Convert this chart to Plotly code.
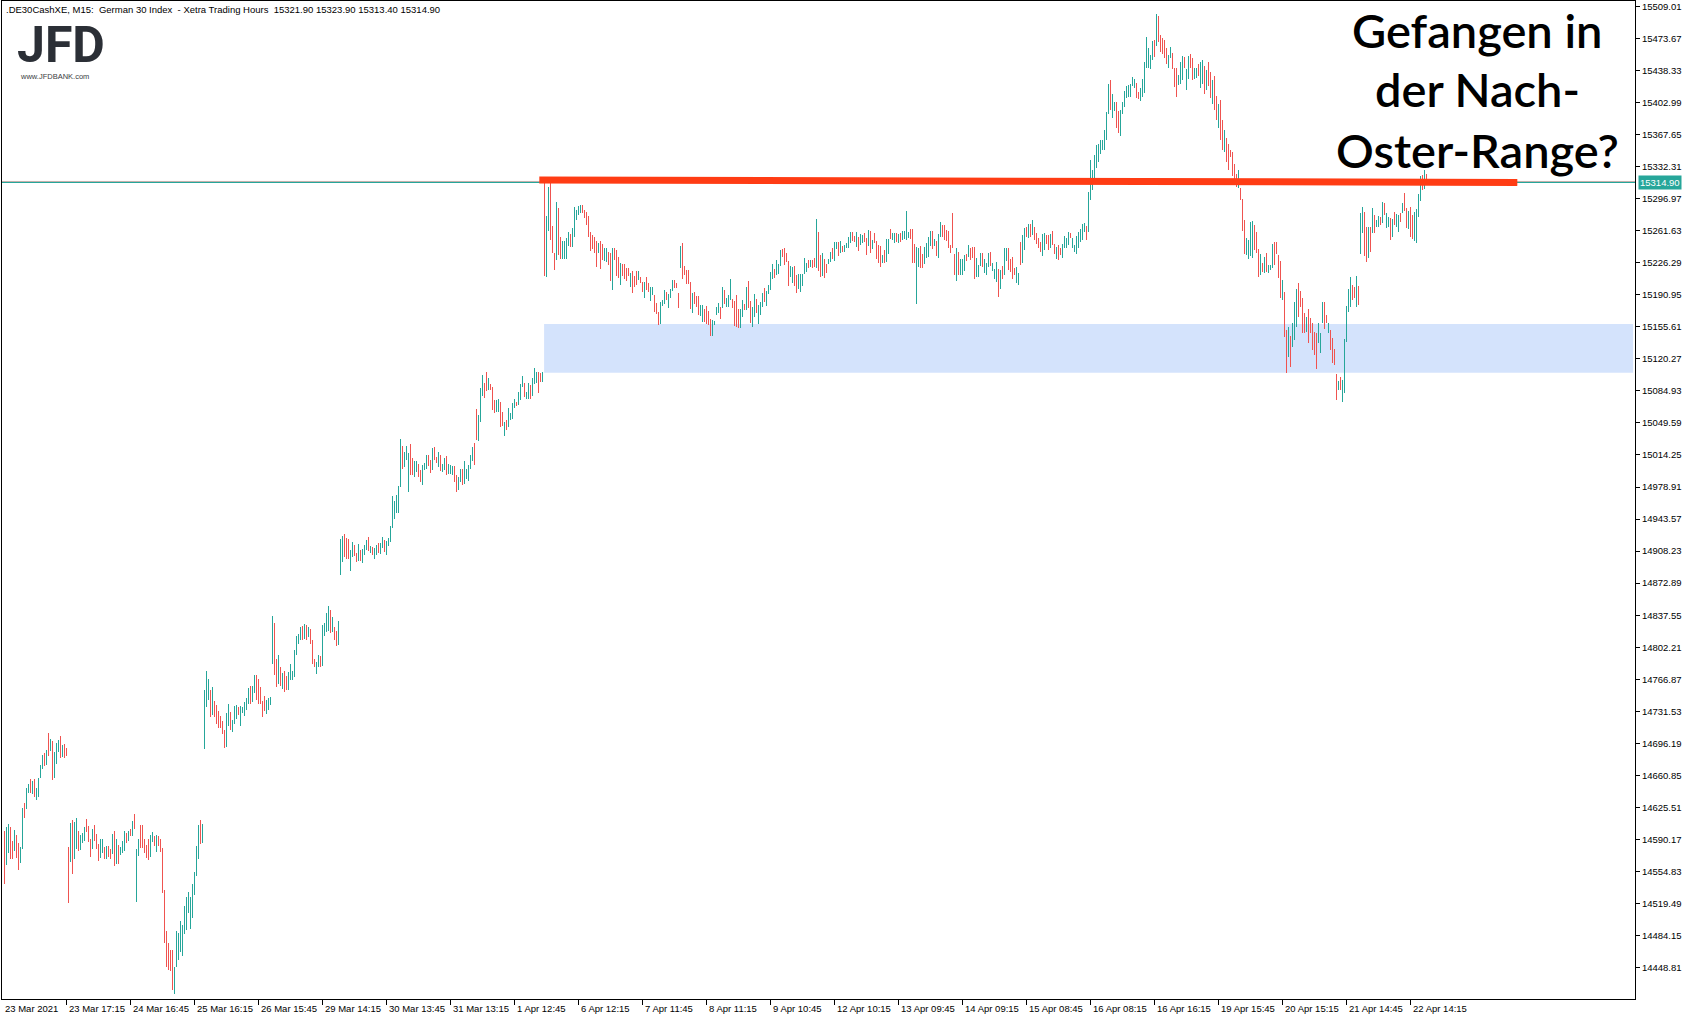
import plotly.graph_objects as go

# ---------------- data ----------------
HIGH = [
    # 23 Mar
    14599.5,14604.3,14607.2,14604.3,14588.8,14600.6,14595.1,14585.9,14582.2,14624.9,
    14630.8,14646.6,14651.4,14656.9,14654.7,14656.9,14647.0,14658.0,14672.3,14683.4,
    14685.2,14688.9,14707.6,14701.0,14698.8,14687.0,14696.6,14699.9,14704.3,14694.8,
    14695.5,14691.4,
    # 24 Mar
    14582.2,14608.4,14611.6,14609.4,14613.9,14599.5,14595.1,14597.7,14604.3,14612.8,
    14605.0,14590.3,14602.1,14606.1,14596.2,14585.2,14591.1,14590.3,14582.2,14583.0,
    14583.0,14580.0,14596.2,14599.5,14591.1,14583.7,14582.2,14588.9,14599.5,14597.7,
    14599.5,14601.4,14610.6,14618.3,
    # 25 Mar
    14580.0,14590.3,14606.1,14606.1,14591.1,14583.7,14590.3,14595.5,14598.1,14594.4,
    14595.5,14594.0,14590.7,14581.1,14534.4,14489.6,14476.3,14468.3,14468.3,14449.9,
    14489.6,14487.4,14500.6,14495.8,14516.8,14527.1,14532.2,14527.1,14541.1,14554.3,
    14583.0,14606.1,14611.6,14607.2,
    # 26 Mar
    14755.1,14776.0,14767.2,14755.1,14758.4,14742.9,14738.5,14731.9,14726.7,14720.9,
    14710.9,14729.3,14739.6,14730.8,14722.0,14737.4,14738.5,14736.7,14737.4,14736.3,
    14741.8,14746.6,14757.3,14759.5,14759.5,14771.6,14771.6,14767.6,14758.4,14743.3,
    14748.4,14744.0,14745.9,14747.0,
    # 29 Mar
    14836.7,14829.3,14789.6,14793.7,14780.4,14774.2,14776.4,14770.9,14774.9,14783.7,
    14776.4,14799.2,14815.0,14816.8,14824.9,14826.0,14827.8,14826.4,14824.9,14822.0,
    14810.2,14788.9,14786.3,14794.0,14792.6,14826.8,14828.6,14839.6,14847.7,14843.3,
    14835.2,14824.9,14820.5,14831.2,
    # 30 Mar - 1 Apr
    14921.6,14924.9,14927.1,14922.7,14921.2,14909.4,14918.2,14914.9,14905.7,14916.0,
    14909.4,14910.1,14914.9,14920.4,14923.8,14913.8,14913.1,14911.3,14914.9,14917.1,
    14917.5,14923.8,14920.4,14919.7,14922.7,14935.9,14969.0,14963.8,14970.1,14980.0,
    15031.9,15024.1,15017.5,15024.1,15016.8,15026.3,15010.9,15007.6,15007.6,15003.9,
    14997.7,15003.2,15005.0,15014.2,15014.2,15008.7,15022.3,15023.4,15012.4,15017.5,
    15014.6,15003.9,15010.9,15013.1,15004.3,15003.2,15002.1,15002.1,14991.8,14990.3,
    14998.8,14998.8,15007.6,14999.1,15003.2,15014.2,15023.4,15027.1,15065.3,15058.3,
    15088.5,15102.8,15094.0,15106.1,15099.1,15092.5,15089.6,15074.9,15074.9,15075.6,
    15073.0,15061.6,15051.0,15052.8,15066.1,15060.9,15071.9,15076.4,15073.0,15084.1,
    15092.5,15101.4,15094.0,15084.1,15094.0,15091.4,15099.1,15110.5,15105.8,15105.8,
    15104.3,15105.8,
    # 6 Apr - 15 Apr
    15315.0,15277.8,15309.4,15313.9,15266.8,15236.6,15293.3,15286.6,15254.3,15250.3,
    15250.3,15253.6,15260.2,15258.0,15265.0,15287.7,15284.4,15288.8,15290.0,15290.3,
    15284.4,15282.2,15277.8,15260.2,15256.5,15254.3,15250.6,15248.4,15250.6,15246.9,
    15242.5,15242.5,15238.1,15237.4,15242.5,15242.5,15240.3,15232.6,15226.0,15224.5,
    15225.2,15220.1,15220.5,15214.6,15216.8,15211.3,15217.2,15216.8,15210.5,15205.0,
    15205.0,15210.5,15203.9,15199.5,15199.9,15190.7,15182.2,15171.9,15183.0,15185.2,
    15196.2,15194.0,15191.8,15197.7,15207.2,15207.2,15203.6,15192.9,15244.7,15248.4,
    15222.7,15218.3,15218.3,15205.0,15193.2,15193.6,15189.9,15189.6,15179.7,15179.7,
    15175.2,15178.9,15173.0,15163.8,15163.1,15162.4,15177.8,15181.5,15177.8,15199.9,
    15196.2,15187.4,15190.3,15208.7,15186.3,15183.7,15190.7,15175.2,15175.2,15185.2,
    15180.7,15199.9,15206.1,15183.7,15177.8,15191.4,15186.3,15179.7,15183.3,15192.5,
    15198.4,15195.1,15202.1,15216.1,15224.9,15219.7,15229.3,15224.5,15240.3,15241.8,
    15242.5,15236.6,15228.2,15222.3,15221.9,15222.7,15212.4,15213.5,15213.9,15213.9,
    15231.5,15226.3,15229.3,15229.7,15229.3,15231.1,15274.1,15260.2,15234.8,15237.4,
    15230.8,15224.5,15230.8,15238.1,15242.5,15249.1,15249.5,15249.1,15249.9,15244.7,
    15245.5,15248.4,15255.0,15260.2,15260.2,15255.8,15259.8,15254.3,15258.0,15257.2,
    15259.4,15253.6,15262.4,15261.6,15251.4,15259.4,15250.6,15245.5,15244.7,15234.4,
    15240.3,15252.8,15252.8,15263.9,15259.4,15259.4,15258.7,15258.0,15258.7,15261.6,
    15261.6,15283.3,15260.5,15263.5,15263.5,15246.9,15243.3,15242.5,15245.1,15235.5,
    15243.3,15247.7,15255.0,15260.9,15261.3,15252.8,15249.9,15258.0,15271.2,15267.9,
    15267.5,15262.4,15260.9,15246.2,15281.5,15235.9,15242.2,15238.5,15230.8,15230.0,
    15234.4,15235.5,15245.8,15242.2,15244.0,15243.3,15231.5,15223.4,15236.6,15236.6,
    15230.8,15226.3,15236.6,15238.1,15225.6,15219.7,15227.1,15219.7,15218.3,15222.7,
    15242.2,15242.2,15242.5,15230.8,15232.2,15220.1,15221.2,15214.6,
    # 15 Apr - 19 Apr
    15248.8,15256.9,15264.2,15266.1,15269.4,15268.7,15273.8,15266.1,15259.1,15253.2,
    15248.8,15257.6,15258.7,15256.9,15256.9,15258.4,15261.3,15246.6,15243.7,15245.9,
    15242.9,15247.3,15256.2,15253.9,15260.6,15259.1,15253.2,15245.9,15256.2,15260.6,
    15263.1,15269.4,15270.1,15266.4,15304.7,15339.3,15329.0,15345.1,15356.2,15357.6,
    15361.3,15361.7,15372.3,15392.9,15423.8,15428.2,15412.1,15404.0,15403.2,15393.7,
    15394.4,15404.0,15415.7,15420.9,15422.4,15423.8,15431.2,15429.0,15424.6,15415.0,
    15418.7,15429.0,15448.1,15475.3,15462.8,15455.4,15470.9,15472.4,15500.3,15498.5,
    15477.5,15473.8,15472.4,15463.5,15455.4,15464.3,15457.3,15441.5,15441.5,15433.4,
    15448.1,15454.0,15453.2,15440.0,15454.0,15456.5,15451.8,15441.5,15440.7,15445.2,
    15447.7,15449.9,15443.3,15438.9,15447.7,15436.7,15427.9,15432.3,15410.2,15401.4,
    15405.8,15383.7,15372.7,15363.9,15357.3,
    # 19 Apr - 22 Apr
    15350.6,15348.8,15335.2,15324.1,15328.5,15308.3,15296.2,15273.4,15253.2,15251.3,
    15271.2,15272.6,15267.5,15260.1,15241.8,15235.9,15226.3,15232.2,15237.3,15223.4,
    15223.7,15246.9,15249.1,15249.1,15234.8,15228.5,15207.2,15194.0,15152.0,15155.0,
    15145.4,15159.4,15182.9,15196.9,15203.5,15195.1,15187.3,15171.2,15166.7,15175.6,
    15165.3,15159.4,15149.8,15149.1,15159.4,15148.4,15182.9,15182.9,15169.0,15159.4,
    15152.0,15143.6,15131.5,15103.5,15095.4,15100.6,15096.9,15142.1,15178.5,15196.9,
    15210.9,15202.1,15199.8,15211.6,15200.6,15280.7,15287.4,15282.2,15266.0,15265.3,
    15266.0,15286.3,15278.9,15273.4,15277.8,15276.3,15293.6,15292.5,15281.5,15277.1,
    15275.2,15274.1,15282.6,15280.0,15278.5,15280.7,15291.8,15303.5,15287.0,15283.7,
    15288.1,15278.5,15282.2,15285.1,15302.1,15321.9,15323.0,15328.5,15323.9,
]

LOW = [
    # 23 Mar
    14541.0,14562.0,14574.9,14569.0,14569.0,14577.8,14570.1,14556.5,14564.6,14580.0,
    14614.2,14624.2,14641.1,14641.8,14640.3,14637.4,14633.7,14637.4,14658.0,14667.9,
    14671.6,14672.3,14682.3,14687.8,14655.8,14658.0,14673.8,14686.7,14680.4,14681.5,
    14680.4,14682.3,
    # 24 Mar
    14520.5,14565.3,14552.1,14569.0,14580.0,14577.8,14578.6,14586.7,14588.9,14598.4,
    14587.4,14570.8,14580.0,14588.9,14580.0,14566.4,14570.1,14575.6,14569.0,14569.0,
    14570.8,14568.3,14574.2,14561.3,14562.8,14563.1,14573.4,14575.6,14577.8,14586.7,
    14588.9,14594.0,14594.0,14602.1,
    # 25 Mar
    14521.6,14571.9,14581.1,14580.8,14575.6,14570.1,14567.5,14570.8,14587.4,14583.0,
    14576.4,14583.0,14576.7,14530.8,14476.3,14449.9,14446.2,14445.5,14424.1,14420.1,
    14449.9,14457.2,14466.4,14461.6,14485.9,14490.3,14509.4,14491.4,14503.9,14529.3,
    14549.9,14569.0,14585.2,14586.7,
    # 26 Mar
    14690.3,14736.7,14744.0,14725.6,14727.5,14725.6,14717.5,14713.1,14713.1,14706.5,
    14691.4,14692.6,14715.7,14710.9,14709.1,14717.5,14722.7,14727.5,14715.7,14730.1,
    14726.4,14733.0,14739.6,14739.6,14741.8,14751.4,14744.0,14739.6,14739.6,14725.6,
    14731.9,14728.6,14733.0,14738.5,
    # 29 Mar
    14783.7,14771.6,14758.7,14761.7,14759.5,14755.8,14753.2,14755.1,14755.1,14766.1,
    14766.1,14769.0,14793.7,14805.8,14810.2,14810.2,14810.9,14810.2,14813.2,14805.8,
    14783.4,14780.1,14772.7,14780.1,14780.8,14781.5,14815.0,14819.4,14820.5,14818.3,
    14819.4,14810.2,14803.6,14804.7,
    # 30 Mar - 1 Apr
    14881.8,14896.2,14902.1,14899.9,14899.1,14886.3,14902.1,14903.2,14895.8,14897.7,
    14897.7,14895.4,14903.5,14909.4,14908.3,14905.7,14903.5,14899.9,14903.9,14905.7,
    14905.4,14912.0,14906.8,14903.9,14913.8,14918.2,14933.7,14943.6,14950.2,14950.2,
    14979.3,14998.4,15001.3,15008.7,14973.4,14992.5,14992.1,14990.3,14995.5,14990.3,
    14984.8,14981.1,14997.7,14998.8,15002.1,14994.7,14997.7,15008.7,15005.8,15001.3,
    14996.6,14995.8,14997.7,14992.1,14993.2,14992.9,14991.8,14984.4,14973.4,14975.6,
    14984.4,14981.5,14981.9,14987.8,14985.9,14998.8,15007.6,15003.2,15030.8,15030.0,
    15051.0,15079.3,15077.1,15084.8,15085.9,15086.3,15063.9,15060.5,15062.0,15061.6,
    15044.7,15046.6,15035.5,15041.8,15044.7,15052.8,15054.3,15066.4,15068.3,15069.0,
    15074.9,15088.9,15078.6,15075.6,15075.6,15075.6,15079.3,15092.5,15093.3,15083.0,
    15095.1,15094.7,
    # 6 Apr - 15 Apr
    15211.6,15210.9,15261.6,15251.4,15236.6,15218.3,15229.3,15234.8,15230.0,15230.8,
    15230.8,15230.8,15244.7,15243.3,15243.3,15254.3,15273.4,15278.9,15280.8,15280.8,
    15275.3,15267.5,15255.0,15239.6,15241.1,15236.6,15221.9,15237.4,15219.7,15229.3,
    15227.8,15227.1,15223.8,15206.5,15196.6,15229.3,15211.6,15209.8,15201.7,15211.6,
    15208.7,15205.8,15212.0,15199.1,15193.2,15199.1,15201.3,15206.9,15203.9,15194.0,
    15187.0,15196.6,15194.0,15183.7,15190.3,15171.9,15169.7,15157.9,15158.7,15178.5,
    15181.1,15184.8,15176.3,15187.7,15195.5,15198.4,15198.4,15176.3,15220.8,15208.3,
    15212.4,15202.4,15203.2,15175.2,15170.5,15180.4,15177.4,15168.6,15167.5,15160.9,
    15160.9,15158.7,15157.9,15145.8,15145.8,15157.2,15168.6,15170.5,15164.6,15176.3,
    15180.7,15177.1,15177.8,15185.2,15176.3,15156.5,15155.7,15153.9,15154.6,15166.0,
    15174.1,15174.1,15176.0,15159.4,15155.0,15166.4,15171.2,15158.7,15168.3,15177.4,
    15183.0,15178.9,15191.8,15196.2,15208.3,15209.4,15212.4,15214.2,15222.7,15232.2,
    15223.4,15227.5,15201.0,15210.9,15203.6,15200.6,15193.2,15197.7,15193.6,15200.6,
    15213.9,15216.1,15220.5,15221.2,15220.5,15221.6,15220.1,15217.5,15210.2,15211.6,
    15209.8,15214.9,15224.9,15227.5,15230.0,15228.6,15241.1,15233.7,15237.4,15238.1,
    15238.5,15242.2,15242.9,15247.7,15250.3,15249.5,15243.3,15239.6,15245.8,15247.7,
    15249.5,15234.8,15244.7,15236.6,15241.1,15248.4,15230.0,15225.6,15221.9,15225.6,
    15226.3,15227.5,15235.9,15252.8,15251.4,15248.4,15248.8,15247.7,15249.5,15251.4,
    15252.8,15251.4,15253.2,15252.5,15226.3,15226.3,15180.7,15221.9,15220.1,15220.8,
    15224.9,15231.1,15232.2,15244.4,15241.1,15244.7,15233.3,15231.1,15254.3,15255.0,
    15251.4,15250.6,15242.2,15236.6,15242.5,15212.4,15206.5,15212.7,15212.4,15213.1,
    15216.8,15228.6,15233.0,15229.3,15231.5,15208.0,15210.9,15210.9,15222.7,15221.2,
    15215.3,15212.4,15221.9,15222.7,15216.8,15208.0,15204.7,15188.8,15196.9,15208.7,
    15212.7,15228.2,15218.3,15216.1,15208.7,15212.7,15203.6,15201.3,
    # 15 Apr - 19 Apr
    15223.8,15225.6,15240.3,15255.0,15253.2,15255.0,15256.9,15251.4,15246.6,15242.2,
    15237.8,15234.1,15240.0,15246.6,15240.0,15242.2,15245.9,15236.3,15230.4,15229.3,
    15234.8,15231.9,15242.2,15242.2,15245.9,15253.2,15242.2,15238.5,15236.3,15242.2,
    15249.5,15251.4,15260.6,15251.0,15259.8,15295.9,15306.5,15319.4,15330.4,15337.0,
    15346.6,15350.3,15350.3,15362.1,15390.7,15395.1,15385.6,15393.7,15375.3,15369.8,
    15366.5,15390.7,15398.1,15407.6,15409.5,15409.1,15421.6,15419.4,15408.4,15406.9,
    15404.7,15409.5,15413.2,15440.7,15440.7,15439.6,15449.9,15453.2,15465.0,15470.2,
    15459.1,15456.2,15451.8,15445.2,15440.7,15452.5,15440.0,15420.1,15409.1,15422.4,
    15423.8,15427.5,15441.5,15417.2,15429.0,15440.7,15427.5,15428.6,15430.4,15431.9,
    15419.0,15423.5,15412.4,15416.8,15421.2,15408.0,15401.4,15394.8,15383.7,15374.9,
    15361.7,15350.6,15348.4,15337.4,15328.6,
    # 19 Apr - 22 Apr
    15343.2,15321.9,15312.4,15310.2,15308.3,15295.4,15261.2,15235.9,15234.8,15230.0,
    15233.7,15231.1,15240.3,15236.6,15210.9,15212.7,15216.4,15214.6,15216.4,15214.6,
    15218.2,15220.1,15223.7,15235.9,15209.0,15187.0,15185.1,15144.7,15104.2,15122.6,
    15111.6,15133.7,15141.0,15155.7,15166.7,15177.8,15148.4,15148.4,15149.8,15137.3,
    15148.4,15130.0,15124.5,15109.4,15137.3,15127.0,15159.4,15153.5,15159.4,15149.1,
    15130.0,15115.3,15113.4,15074.8,15085.9,15085.9,15072.6,15082.2,15138.8,15171.9,
    15177.0,15185.1,15187.0,15177.8,15179.6,15235.9,15259.4,15233.7,15227.4,15231.1,
    15238.5,15258.7,15259.4,15265.3,15266.0,15267.9,15269.7,15278.9,15264.2,15266.0,
    15251.3,15255.0,15267.9,15265.3,15260.5,15271.5,15281.5,15283.7,15264.2,15263.8,
    15254.3,15252.1,15250.6,15248.4,15277.1,15294.7,15306.5,15307.2,15313.4,
]

# u = bullish (close > open), d = bearish
DIRECTION = (
    "duuddudduu" "duududuuuu" "dududuuudu" "dd"
    "duduuduuud" "dduddduudu" "ddududuuud" "udud"
    "uuddddduud" "uddddddddu" "uuuuuuuuuu" "uudu"
    "uuududdddd" "duuduuuduu" "uuuduudddd" "duuu"
    "uddududduu" "uuuuududud" "dduuduuuud" "uddu"
    "uuddduuddu" "duuududuud" "uuduuuuuuu" "uduuudduud" "duuudduddu"
    "duuduuuddu" "uduuuuuddu" "uudduddduu" "dduduuuudu" "uuduuduuud" "du"
    "duuddduddu" "uuuduuuuud" "dddddddudd" "uuddudddud" "dddudddudd"
    "udduuddduu" "uduuudddud" "dddduddduu" "dddduuuudu" "duuudddduu"
    "dudduuduuu" "duuuuduuud" "ddduudduuu" "uududduddu" "dduuduudud"
    "uuuudduduu" "ddududdddu" "duuduududu" "uuuddduudd" "uuuududuud"
    "dddddduduu" "ududdduuud" "uuuduuudud" "uudddduu"
    "duudududdd" "duudduddud" "duuuuduuuu" "uuuduuuuuu" "uuuuuduudd"
    "uuuuuuuudd" "uuuuuuudud" "dddduudddu" "uuduudduud"
    "uududduddu" "ddudd"
    "dddduddduu" "uudddududu" "uudddduddu" "duuuddddud" "dddduuuddu"
    "dddduduuuu" "udduduuddu" "duduududuu" "duduududdu" "dduuuudud"
)

X_TICK_BARS = [31 + 32 * k for k in range(22)]
X_TICK_LABELS = [
    "23 Mar 17:15", "24 Mar 16:45", "25 Mar 16:15", "26 Mar 15:45", "29 Mar 14:15",
    "30 Mar 13:45", "31 Mar 13:15", "1 Apr 12:45", "6 Apr 12:15", "7 Apr 11:45",
    "8 Apr 11:15", "9 Apr 10:45", "12 Apr 10:15", "13 Apr 09:45", "14 Apr 09:15",
    "15 Apr 08:45", "16 Apr 08:15", "16 Apr 16:15", "19 Apr 15:45", "20 Apr 15:15",
    "21 Apr 14:45", "22 Apr 14:15",
]
FIRST_LABEL = "23 Mar 2021"

Y_TICKS = [14448.81, 14484.15, 14519.49, 14554.83, 14590.17, 14625.51, 14660.85,
           14696.19, 14731.53, 14766.87, 14802.21, 14837.55, 14872.89, 14908.23,
           14943.57, 14978.91, 15014.25, 15049.59, 15084.93, 15120.27, 15155.61,
           15190.95, 15226.29, 15261.63, 15296.97, 15332.31, 15367.65, 15402.99,
           15438.33, 15473.67, 15509.01]

BID = 15314.90
ASK = 15315.95
HEADER = ".DE30CashXE, M15:  German 30 Index  - Xetra Trading Hours  15321.90 15323.90 15313.40 15314.90"

# resistance line (bar index, price) and support zone
RES_START = (267.4, 15317.6)
RES_END = (756.4, 15314.8)
ZONE_X = (269.8, 814.3)
ZONE_Y = (15104.9, 15158.7)

TITLE_LINES = ["Gefangen in", "der Nach-", "Oster-Range?"]

assert len(HIGH) == len(LOW) == len(DIRECTION), (len(HIGH), len(LOW), len(DIRECTION))

# ---------------- figure ----------------
W, H = 1693, 1020
ML, MR, MT, MB = 2, 58, 1, 21
PW, PH = W - ML - MR, H - MT - MB
UP, DOWN = "#26A69A", "#EF5350"
FONT = "Liberation Sans"


def px_x(p):
    return (p - ML) / PW


def px_y(p):
    return 1 - (p - MT) / PH


n = len(HIGH)
idx = list(range(n))
colors = [UP if c == "u" else DOWN for c in DIRECTION]

fig = go.Figure()
fig.add_trace(go.Bar(
    x=idx,
    y=[h - l for h, l in zip(HIGH, LOW)],
    base=LOW,
    width=0.5,
    marker=dict(color=colors, line=dict(width=0)),
    hoverinfo="skip",
))

shapes = [
    dict(type="rect", xref="x", yref="y", x0=ZONE_X[0], x1=ZONE_X[1],
         y0=ZONE_Y[0], y1=ZONE_Y[1], fillcolor="#D4E3FC", line=dict(width=0),
         layer="below"),
    dict(type="line", xref="paper", yref="y", x0=0, x1=1, y0=ASK, y1=ASK,
         line=dict(color=DOWN, width=1), opacity=0.45),
    dict(type="line", xref="paper", yref="y", x0=0, x1=1, y0=BID, y1=BID,
         line=dict(color=UP, width=1.2)),
    dict(type="line", xref="x", yref="y", x0=RES_START[0], y0=RES_START[1],
         x1=RES_END[0], y1=RES_END[1], line=dict(color="#FF3C14", width=7)),
]

annotations = []
# x labels
annotations.append(dict(x=px_x(3), y=0, xref="paper", yref="paper", text=FIRST_LABEL,
                        showarrow=False, xanchor="left", yanchor="top", yshift=-2,
                        font=dict(family=FONT, size=9.5, color="#000")))
for b, t in zip(X_TICK_BARS, X_TICK_LABELS):
    annotations.append(dict(x=b, y=0, xref="x", yref="paper", text=t, showarrow=False,
                            xanchor="left", yanchor="top", xshift=0, yshift=-2,
                            font=dict(family=FONT, size=9.5, color="#000")))
# header
annotations.append(dict(x=px_x(4), y=px_y(2), xref="paper", yref="paper", text=HEADER,
                        showarrow=False, xanchor="left", yanchor="top",
                        font=dict(family=FONT, size=9.5, color="#000")))
# logo
annotations.append(dict(x=px_x(15), y=px_y(45), xref="paper", yref="paper",
                        text="<b>JFD</b>", showarrow=False, xanchor="left", yanchor="middle",
                        font=dict(family="Roboto", size=50, color="#2B2F36")))
annotations.append(dict(x=px_x(18), y=px_y(76), xref="paper", yref="paper",
                        text="www.JFDBANK.com", showarrow=False, xanchor="left",
                        yanchor="middle", font=dict(family=FONT, size=7.5, color="#3A3D42")))
# big title text
for line, cy in zip(TITLE_LINES, [30, 89, 150]):
    annotations.append(dict(x=px_x(1477), y=px_y(cy), xref="paper", yref="paper",
                            text=line, showarrow=False, xanchor="center", yanchor="middle",
                            font=dict(family="Lato", size=47, color="#000", weight=600)))
# current price label
annotations.append(dict(x=px_x(1638), y=BID, xref="paper", yref="y",
                        text=f"{BID:.2f}", showarrow=False, xanchor="left", yanchor="middle",
                        bgcolor=UP, borderpad=1,
                        font=dict(family=FONT, size=9.5, color="#FFFFFF")))

fig.update_layout(
    width=W, height=H,
    margin=dict(l=ML, r=MR, t=MT, b=MB, pad=0),
    paper_bgcolor="#FFFFFF", plot_bgcolor="#FFFFFF",
    showlegend=False, bargap=0,
    shapes=shapes, annotations=annotations,
    xaxis=dict(range=[-1.25, -1.25 + PW / 2.0], showgrid=False, zeroline=False,
               showline=True, linecolor="#000", linewidth=1, mirror=True,
               ticks="outside", ticklen=5, tickcolor="#000", tickwidth=1,
               tickvals=X_TICK_BARS, showticklabels=False, fixedrange=True),
    yaxis=dict(range=[14414.2, 15515.0], side="right", showgrid=False, zeroline=False,
               showline=True, linecolor="#000", linewidth=1, mirror=True,
               ticks="outside", ticklen=4, tickcolor="#000", tickwidth=1,
               tickvals=Y_TICKS, ticktext=[f"{v:.2f}" for v in Y_TICKS],
               tickfont=dict(family=FONT, size=9.5, color="#000"), fixedrange=True),
)

fig.write_html("out.html", config={"displayModeBar": False},
               post_script="document.body.style.margin='0';")
